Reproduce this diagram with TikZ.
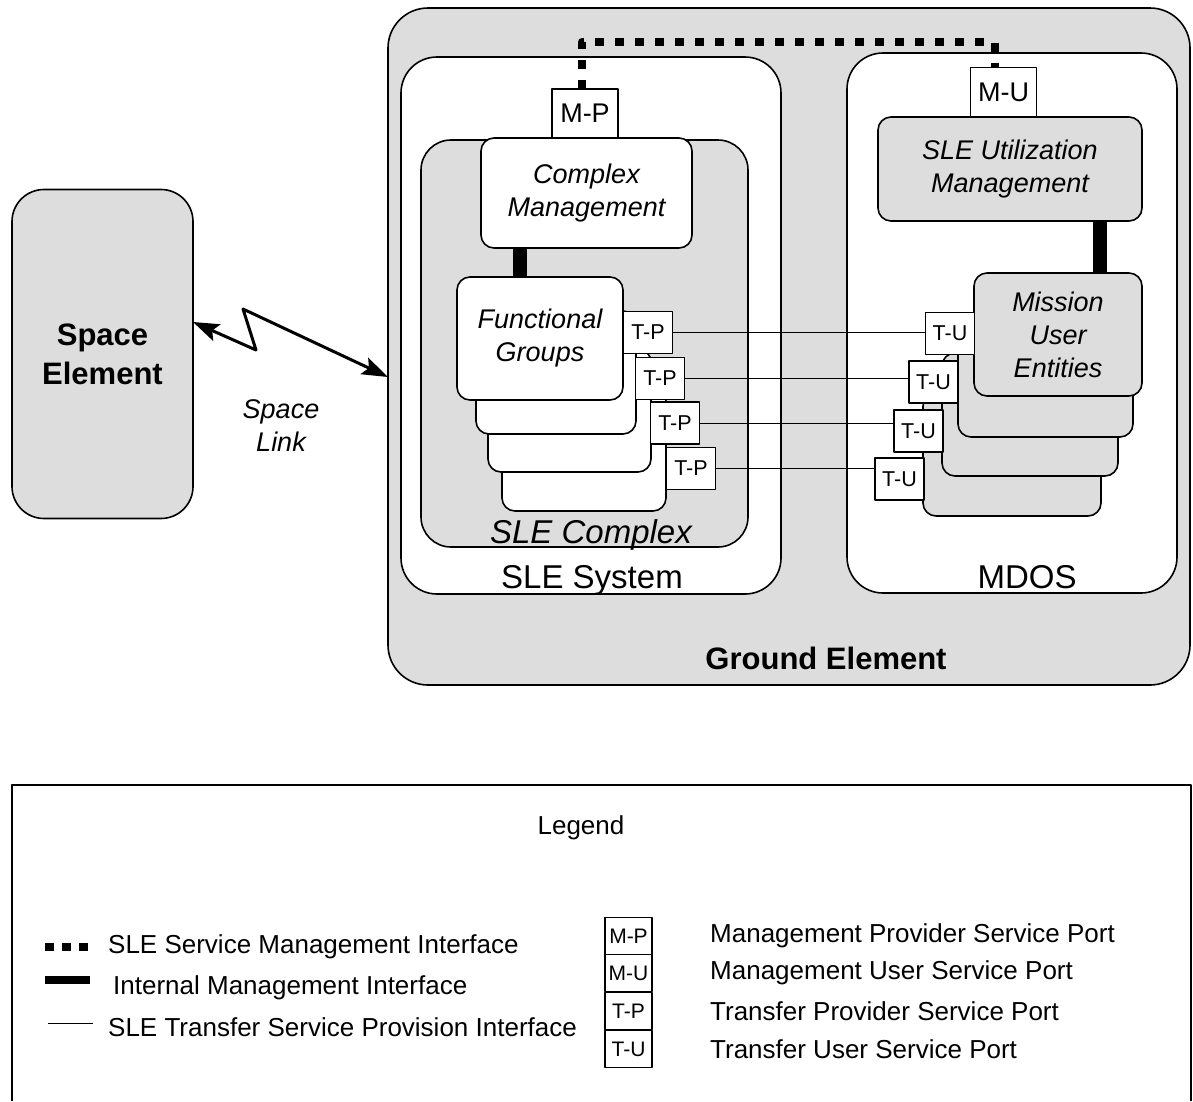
\documentclass[tikz,border=0pt]{standalone}
\usepackage{fontspec}
\setmainfont{Liberation Sans}
\usepackage{tikz}
\usetikzlibrary{arrows.meta,positioning,calc}
\definecolor{panel}{HTML}{DDDDDD}
\newcommand{\itfont}{\fontsize{27}{33}\selectfont\itshape}
\newcommand{\sysfont}{\fontsize{33}{38}\selectfont}
\newcommand{\elemfont}{\fontsize{31}{39}\selectfont\bfseries}
\newcommand{\mportfont}{\fontsize{27}{30}\selectfont}
\newcommand{\tportfont}{\fontsize{21.5}{24}\selectfont}
\newcommand{\legfont}{\fontsize{26}{30}\selectfont}
\newcommand{\legportfont}{\fontsize{21}{23}\selectfont}

\begin{document}
\begin{tikzpicture}[x=1pt, y=-1pt, line join=round,
   area/.style={draw, line width=1.6pt, inner sep=0pt, outer sep=0pt, rounded corners=#1},
   area/.default=36pt,
   unit/.style={draw, line width=1.6pt, rounded corners=13pt, inner sep=0pt, outer sep=0pt, align=center, font=\itfont},
   mport/.style={draw, line width=1.6pt, fill=white, inner sep=0pt, outer sep=0pt, font=\mportfont, minimum width=66pt, minimum height=49pt},
   tport/.style={draw, line width=1.6pt, fill=white, inner sep=0pt, outer sep=0pt, font=\tportfont, minimum width=49pt, minimum height=42pt},
   lport/.style={draw, line width=1.3pt, inner sep=0pt, font=\legportfont, minimum width=47pt, minimum height=37pt},
   mgmt/.style={line width=14pt},
   svcmgmt/.style={line width=8pt, dash pattern=on 9pt off 11pt},
   xfer/.style={line width=0.9pt},
   link/.style={line width=3pt, {Stealth[length=26pt,width=18pt,inset=5pt]}-{Stealth[length=26pt,width=18pt,inset=5pt]}},
   legtext/.style={anchor=west, font=\legfont, inner sep=0pt}]
   \useasboundingbox (0,0) rectangle (1193,1101);
   % elements and systems
   \node[area=40pt, fill=panel, minimum width=802pt, minimum height=677pt] (ground) at (789,346.5) {};
   \node[area=32pt, fill=panel, minimum width=181pt, minimum height=329pt, font=\elemfont, align=center] (space) at (102.5,354) {Space\\Element};
   \node[area, fill=white, minimum width=380pt, minimum height=537pt] (slesys) at (591,325.5) {};
   \node[area, fill=white, minimum width=330pt, minimum height=540pt] (mdos) at (1012,323) {};
   \node[area=30pt, fill=panel, minimum width=327pt, minimum height=407pt] (cplx) at (584.5,343.5) {};
   \node[font=\elemfont, anchor=base] (groundlbl) at (826,669) {Ground Element};
   \node[font=\sysfont, anchor=base] (syslbl) at (592,588) {SLE System};
   \node[font=\sysfont\itshape, anchor=base] (cplxlbl) at (591,543) {SLE Complex};
   \node[font=\sysfont, anchor=base] (mdoslbl) at (1027,588) {MDOS};
   % SLE complex
   \node[mport] (mp) at (585,113.5) {M-P};
   \node[unit, fill=white, minimum width=211pt, minimum height=110pt] (cm) at (586.5,193) {Complex\\Management};
   \node[unit, fill=white, minimum width=164pt, minimum height=123pt] (fg4) at (584,449.5) {};
   \node[unit, fill=white, minimum width=163pt, minimum height=123pt] (fg3) at (569.5,410.5) {};
   \node[unit, fill=white, minimum width=160pt, minimum height=123pt] (fg2) at (556,372.5) {};
   \node[unit, fill=white, minimum width=166pt, minimum height=123pt] (fg1) at (540,338.5) {Functional\\Groups};
   \node[tport] (tp1) at (648,332.5) {T-P};
   \node[tport] (tp2) at (660,378.5) {T-P};
   \node[tport] (tp3) at (675,423) {T-P};
   \node[tport] (tp4) at (691,468.5) {T-P};
   % MDOS
   \node[mport] (mu) at (1003.5,92) {M-U};
   \node[unit, fill=panel, minimum width=264pt, minimum height=104pt] (slum) at (1010,169) {SLE Utilization\\Management};
   \node[unit, fill=panel, minimum width=178pt, minimum height=123pt] (mue4) at (1012,454.5) {};
   \node[unit, fill=panel, minimum width=176pt, minimum height=123pt] (mue3) at (1030,414.5) {};
   \node[unit, fill=panel, minimum width=175pt, minimum height=123pt] (mue2) at (1045.5,375.5) {};
   \node[unit, fill=panel, minimum width=168pt, minimum height=123pt] (mue1) at (1058,334.5) {Mission\\User\\Entities};
   \node[tport] (tu1) at (950,333.5) {T-U};
   \node[tport] (tu2) at (933.5,382) {T-U};
   \node[tport] (tu3) at (918.5,431) {T-U};
   \node[tport] (tu4) at (899.5,479) {T-U};
   % interfaces
   \draw[mgmt] ([xshift=-66.5pt]cm.south) -- ([xshift=-66.5pt]cm.south |- fg1.north);
   \draw[mgmt] ([xshift=90pt]slum.south) -- ([xshift=90pt]slum.south |- mue1.north);
   \draw[svcmgmt] ([xshift=-3pt]mp.north) -- ++(0,-47) -| ([xshift=-9pt]mu.north);
   \draw[xfer] (tp1.east) -- (tp1.east -| tu1.west);
   \draw[xfer] (tp2.east) -- (tp2.east -| tu2.west);
   \draw[xfer] (tp3.east) -- (tp3.east -| tu3.west);
   \draw[xfer] (tp4.east) -- (tp4.east -| tu4.west);
   % space link
   \coordinate (zzA) at (256,350);
   \coordinate (zzB) at (243,309);
   \draw[link] ([yshift=32pt]space.east) -- (zzA) -- (zzB) -- ([yshift=-30.5pt]ground.west);
   \node[font=\itfont, align=center] (linklbl) at (281,426) {Space\\Link};
   % legend
   \draw[line width=2.5pt] (12,1101) -- (12,785) -- (1191,785) -- (1191,1101);
   \node[font=\legfont] (leghead) at (581,828) {Legend};
   \draw[line width=8pt, dash pattern=on 9pt off 8pt] (45,947) -- (88,947);
   \node[legtext] (li1) at (108,947) {SLE Service Management Interface};
   \draw[line width=8pt] (45,980) -- (90,980);
   \node[legtext] (li2) at (113,988) {Internal Management Interface};
   \draw[xfer] (48,1023) -- (93,1023);
   \node[legtext] (li3) at (108,1027) {SLE Transfer Service Provision Interface};
   \node[lport] (lmp) at (628.5,936) {M-P};
   \node[lport] (lmu) at (628.5,973) {M-U};
   \node[lport] (ltp) at (628.5,1011) {T-P};
   \node[lport] (ltu) at (628.5,1049) {T-U};
   \node[legtext] (lt1) at (710,936) {Management Provider Service Port};
   \node[legtext] (lt2) at (710,973) {Management User Service Port};
   \node[legtext] (lt3) at (710,1011) {Transfer Provider Service Port};
   \node[legtext] (lt4) at (710,1049) {Transfer User Service Port};
\end{tikzpicture}
\end{document}
